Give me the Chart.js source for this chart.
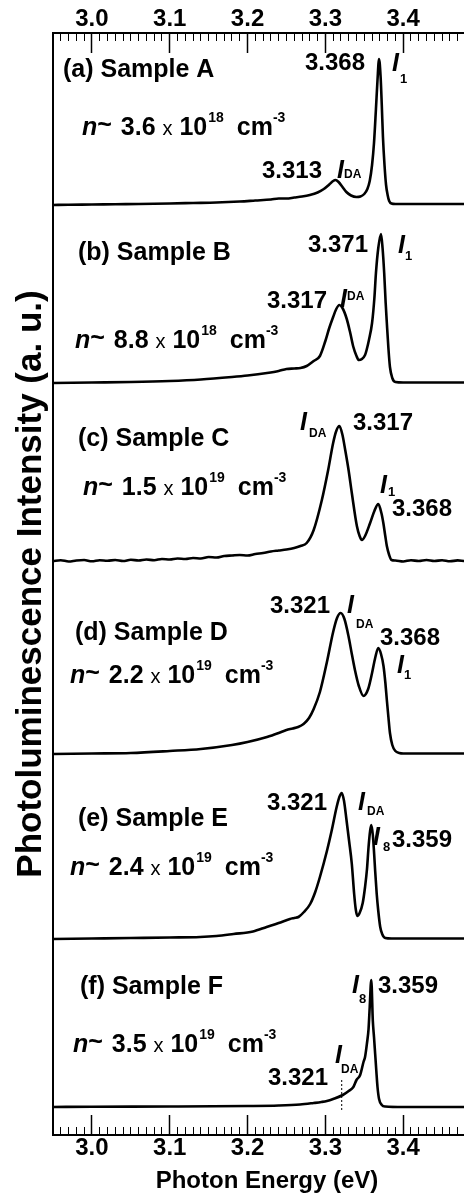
<!DOCTYPE html>
<html><head><meta charset="utf-8">
<script src="https://cdn.jsdelivr.net/npm/chart.js@4.4.1/dist/chart.umd.min.js"></script>
<style>
html,body{margin:0;padding:0;background:#fff;overflow:hidden;}
#wrap{width:464px;height:1193px;overflow:hidden;position:relative;background:#fff;}
canvas{display:block;}
</style></head><body>
<div id="wrap"><canvas id="c" width="481" height="1193"></canvas></div>
<script>
// ---------------- DATA ----------------
const xTickValues = [3.0, 3.1, 3.2, 3.3, 3.4];
const xTickLabels = ['3.0', '3.1', '3.2', '3.3', '3.4'];
const sampleNames = ['(a) Sample A', '(b) Sample B', '(c) Sample C', '(d) Sample D', '(e) Sample E', '(f) Sample F'];
const carrierMantissa = ['3.6', '8.8', '1.5', '2.2', '2.4', '3.5'];
const carrierExponent = ['18', '18', '19', '19', '19', '19'];

const energyA = [2.95,2.97,3.00,3.03,3.06,3.10,3.13,3.16,3.19,3.21,3.23,3.24,3.25,3.26,3.27,3.28,3.29,3.298,3.305,3.31,3.313,3.317,3.322,3.327,3.333,3.34,3.345,3.35,3.354,3.357,3.36,3.3625,3.365,3.367,3.369,3.371,3.3725,3.374,3.376,3.378,3.38,3.382,3.385,3.39,3.40,3.45,3.50];
const intensityA = [0,0.3,0.5,0.8,1,1.5,2,2.5,3.5,4.5,5.5,6.5,6.5,7.5,8.5,10,12.5,16,20.5,24,25,23,18,13,9.5,8,8.5,11,16,24,40,62,96,125,146,128,100,68,40,20,10,4,1.5,1,1,1,1];

const energyB = [2.95,3.00,3.05,3.10,3.14,3.18,3.20,3.225,3.24,3.25,3.26,3.268,3.276,3.285,3.293,3.30,3.305,3.31,3.314,3.318,3.322,3.3275,3.332,3.336,3.34,3.343,3.347,3.351,3.353,3.356,3.36,3.363,3.365,3.368,3.3715,3.3735,3.3756,3.3775,3.379,3.381,3.383,3.386,3.39,3.40,3.50];
const intensityB = [0,0.5,1,2,3.5,6,7.5,10,12,14,14.5,15,17,22,27,42,55,66,74,78,75,64,50,36,27,23,24,28,33,43,60,85,110,135,149,135,110,80,60,35,16,5,1,0.5,0.5];

const energyC = [2.95,2.96,2.97,2.98,2.99,3.00,3.01,3.02,3.03,3.04,3.05,3.06,3.07,3.08,3.09,3.10,3.11,3.12,3.13,3.14,3.15,3.16,3.17,3.18,3.19,3.20,3.21,3.22,3.23,3.24,3.25,3.26,3.268,3.276,3.285,3.2955,3.3036,3.31,3.314,3.318,3.322,3.3255,3.33,3.334,3.3405,3.344,3.347,3.351,3.3575,3.363,3.368,3.372,3.3745,3.377,3.379,3.382,3.385,3.39,3.40,3.41,3.42,3.43,3.44,3.45,3.46,3.47,3.48,3.49,3.50];
const intensityC = [0,0.8,-0.5,0.5,1,-0.3,0.8,0.2,1,0,1.2,0.5,1.5,0.8,2,1.5,2.5,2,3,2.5,4,3.5,5,5.5,6,5.5,7,8,9.5,10.5,11.5,13,15,18,31,61,91,118,130,135,126,111,90,68,35,25,21,25,38,50,57,48,38,25,15,6,1,0.5,-0.5,0.8,0,1,0,0.8,-0.3,0.6,0,0.5,0];

const energyD = [2.95,3.00,3.05,3.10,3.14,3.18,3.20,3.225,3.24,3.25,3.258,3.265,3.272,3.279,3.285,3.293,3.302,3.31,3.315,3.3197,3.3245,3.3297,3.334,3.338,3.343,3.349,3.355,3.36,3.364,3.368,3.3715,3.3747,3.377,3.379,3.381,3.383,3.386,3.39,3.395,3.40,3.50];
const intensityD = [0,0.5,1,3,5,9,12,17,21,24,25.5,27,30,36,45,62,92,122,136,141,135,118,100,84,68,58,65,81,96,106,100,88,72,54,37,21,9,3,1,0.5,0.5];

const energyE = [2.95,3.00,3.05,3.10,3.139,3.16,3.182,3.207,3.2245,3.24,3.2545,3.26,3.2655,3.2725,3.2805,3.287,3.293,3.302,3.308,3.3145,3.318,3.321,3.324,3.327,3.3305,3.334,3.337,3.339,3.341,3.344,3.348,3.351,3.3535,3.3555,3.3575,3.359,3.361,3.3627,3.364,3.366,3.368,3.3705,3.373,3.377,3.385,3.50];
const intensityE = [0,0.5,1,1.5,2,3,5,7.5,12,16,20,21,22,27,35,47,62,88,108,132,142,146,138,120,98,75,45,30,23,26,36,52,70,92,108,114,104,85,68,45,28,12,5,1,0.5,0.5];

const energyF = [2.95,3.00,3.10,3.20,3.24,3.2675,3.285,3.295,3.302,3.31,3.3224,3.33,3.336,3.34,3.3447,3.349,3.351,3.3535,3.3555,3.357,3.359,3.361,3.3625,3.364,3.3655,3.367,3.369,3.3725,3.377,3.40,3.50];
const intensityF = [0,0.3,0.5,1,1.5,2.5,4,5,6,8,12,16,20,27,32,45,50,64,78,100,127,86,70,53,36,20,8,2,0.5,0,0];

const energies = [energyA, energyB, energyC, energyD, energyE, energyF];
const intensities = [intensityA, intensityB, intensityC, intensityD, intensityE, intensityF];

const markerEnergy = 3.321;          // dotted I_DA marker in panel (f)
const markerSpan = [-3, 29];

// ---------------- LAYOUT ----------------
const PANEL_OFFSET = [930, 752, 574, 381, 196, 28]; // vertical stacking offsets (y units = px)
const Y_RANGE = 1102;
const FONT = '"Liberation Sans", Arial, Helvetica, sans-serif';

function spectrum(i) {
  return energies[i].map((e, k) => ({x: e, y: PANEL_OFFSET[i] + intensities[i][k]}));
}

const datasets = energies.map((_, i) => ({
  data: spectrum(i), borderColor: '#000', borderWidth: 2.6, pointRadius: 0,
  fill: false, cubicInterpolationMode: 'monotone'
}));
datasets.push({
  data: markerSpan.map(v => ({x: markerEnergy, y: PANEL_OFFSET[5] + v})),
  borderColor: '#000', borderWidth: 1, borderDash: [2, 2], pointRadius: 0, fill: false
});

function majorTicks(s) { s.ticks = xTickValues.map(v => ({value: v})); }
function minorTicks(s) { const t = []; for (let k = 295; k <= 350; k++) t.push({value: k / 100}); s.ticks = t; }
const tickFont = {family: FONT, size: 24, weight: 'bold'};
const xBase = {type: 'linear', min: 2.95, max: 3.5};

const STY = {
  num: 'bold 24px ' + FONT,
  sample: 'bold 25px ' + FONT,
  I: 'italic bold 25px ' + FONT,
  sub: 'bold 13px ' + FONT,
  subDA: 'bold 12px ' + FONT
};
const sampleLabelPos = [[63, 77], [78, 260], [78, 446], [75, 640], [78, 826], [80, 994]];
const carrierLabelPos = [[82, 135], [75, 348], [83, 495], [70, 683], [70, 875], [73, 1052]];
const texts = [
  ['3.368', 305, 70, 'num'], ['I', 392, 71, 'I'], ['1', 400, 83, 'sub'],
  ['3.313', 262, 178, 'num'], ['I', 337, 178, 'I'], ['DA', 344, 178, 'subDA'],
  ['3.371', 308, 252, 'num'], ['I', 398, 253, 'I'], ['1', 405, 260, 'sub'],
  ['3.317', 267, 308, 'num'], ['I', 340, 307, 'I'], ['DA', 347, 300, 'subDA'],
  ['I', 300, 430, 'I'], ['DA', 309, 437, 'subDA'], ['3.317', 353, 430, 'num'],
  ['I', 380, 493, 'I'], ['1', 388, 496, 'sub'], ['3.368', 392, 516, 'num'],
  ['3.321', 270, 613, 'num'], ['I', 347, 613, 'I'], ['DA', 356, 628, 'subDA'],
  ['3.368', 380, 645, 'num'], ['I', 397, 673, 'I'], ['1', 404, 679, 'sub'],
  ['3.321', 267, 810, 'num'], ['I', 358, 810, 'I'], ['DA', 367, 815, 'subDA'],
  ['I', 373, 845, 'I'], ['8', 383, 851, 'sub'], ['3.359', 392, 847, 'num'],
  ['I', 352, 993, 'I'], ['8', 359, 1003, 'sub'], ['3.359', 378, 993, 'num'],
  ['3.321', 268, 1085, 'num'], ['I', 335, 1063, 'I'], ['DA', 341, 1073, 'subDA']
];

const annotate = {
  id: 'annotate',
  afterDatasetsDraw(chart) {
    const ctx = chart.ctx;
    ctx.save();
    ctx.fillStyle = '#000';
    ctx.textBaseline = 'alphabetic';
    ctx.textAlign = 'left';
    sampleNames.forEach((s, i) => {
      ctx.font = STY.sample; ctx.fillText(s, sampleLabelPos[i][0], sampleLabelPos[i][1]);
    });
    const big = 'bold 25px ' + FONT, sup = 'bold 14px ' + FONT;
    carrierMantissa.forEach((m, i) => {
      let [x, y] = carrierLabelPos[i];
      // [text, font, baseline shift, extra gap after]
      const segs = [
        ['n', 'italic bold 25px ' + FONT, 0, 0], ['~', big, -2, 2], [' ' + m + ' ', big, 0, 0],
        ['x', '20px ' + FONT, 0, 0], [' 10', big, 0, 1], [carrierExponent[i], sup, -13, 6],
        [' cm', big, 0, 0], ['-3', sup, -13, 0]
      ];
      segs.forEach(([t, f, dy, gap]) => {
        ctx.font = f; ctx.fillText(t, x, y + dy); x += ctx.measureText(t).width + gap;
      });
    });
    texts.forEach(([t, x, y, st]) => { ctx.font = STY[st]; ctx.fillText(t, x, y); });
    ctx.restore();
  }
};

new Chart(document.getElementById('c'), {
  type: 'line',
  data: {datasets},
  plugins: [annotate],
  options: {
    responsive: false, animation: false, events: [],
    layout: {padding: 0},
    plugins: {legend: {display: false}, tooltip: {enabled: false}},
    scales: {
      x: Object.assign({}, xBase, {
        position: 'bottom', weight: 1,
        afterBuildTicks: majorTicks, afterFit: s => { s.height = 58; },
        ticks: {autoSkip: false, maxRotation: 0, font: tickFont, color: '#000', padding: 18.6,
                callback: v => { const k = xTickValues.indexOf(v); return k >= 0 ? xTickLabels[k] : ''; }},
        grid: {display: true, drawOnChartArea: false, drawTicks: true, tickLength: -20, tickWidth: 1.5, tickColor: '#000'},
        border: {display: true, color: '#000', width: 2},
        title: {display: true, text: 'Photon Energy (eV)', font: {family: FONT, size: 24, weight: 'bold'}, color: '#000', padding: {top: 0, bottom: -3}}
      }),
      xm: Object.assign({}, xBase, {
        position: 'bottom', weight: 0,
        afterBuildTicks: minorTicks, afterFit: s => { s.height = 0; },
        ticks: {display: false},
        grid: {display: true, drawOnChartArea: false, drawTicks: true, tickLength: -8, tickWidth: 1, tickColor: '#000'},
        border: {display: false}
      }),
      xt: Object.assign({}, xBase, {
        position: 'top', weight: 1,
        afterBuildTicks: majorTicks, afterFit: s => { s.height = 33; },
        ticks: {autoSkip: false, maxRotation: 0, font: tickFont, color: '#000', padding: 19.6,
                callback: v => { const k = xTickValues.indexOf(v); return k >= 0 ? xTickLabels[k] : ''; }},
        grid: {display: true, drawOnChartArea: false, drawTicks: true, tickLength: -20, tickWidth: 1.5, tickColor: '#000'},
        border: {display: true, color: '#000', width: 2}
      }),
      xtm: Object.assign({}, xBase, {
        position: 'top', weight: 0,
        afterBuildTicks: minorTicks, afterFit: s => { s.height = 0; },
        ticks: {display: false},
        grid: {display: true, drawOnChartArea: false, drawTicks: true, tickLength: -8, tickWidth: 1, tickColor: '#000'},
        border: {display: false}
      }),
      y: {
        type: 'linear', position: 'left', min: 0, max: Y_RANGE,
        afterFit: s => { s.width = 53; },
        ticks: {display: false},
        grid: {display: false, drawTicks: false},
        border: {display: true, color: '#000', width: 2},
        title: {display: true, text: 'Photoluminescence Intensity (a. u.)', font: {family: FONT, size: 35, weight: 'bold'}, color: '#000', padding: {top: 10, bottom: 0}}
      }
    }
  }
});
</script>
</body></html>
